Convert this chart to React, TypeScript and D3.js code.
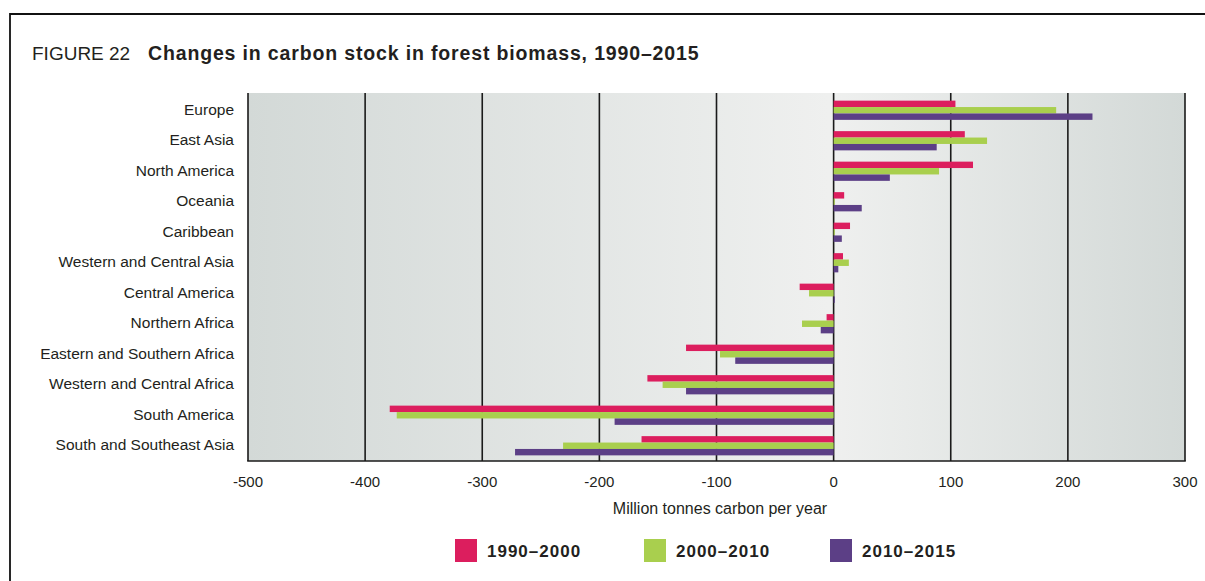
import * as d3 from 'd3';

const regions = [
  'Europe',
  'East Asia',
  'North America',
  'Oceania',
  'Caribbean',
  'Western and Central Asia',
  'Central America',
  'Northern Africa',
  'Eastern and Southern Africa',
  'Western and Central Africa',
  'South America',
  'South and Southeast Asia',
];

const periods = ['1990–2000', '2000–2010', '2010–2015'];

const values1990 = [104, 112, 119, 9, 14, 8, -29, -6, -126, -159, -379, -164];
const values2000 = [190, 131, 90, 1, 1, 13, -21, -27, -97, -146, -373, -231];
const values2010 = [221, 88, 48, 24, 7, 4, 1, -11, -84, -126, -187, -272];

const xTicks = [-500, -400, -300, -200, -100, 0, 100, 200, 300];

const colors = ['#dc1e5e', '#a9cf4e', '#5c3f86'];
const ink = '#231f20';
const font = "'Liberation Sans', Arial, sans-serif";

const W = 1205;
const H = 581;

export default function App() {
  const x = d3.scaleLinear().domain([-500, 300]).range([248, 1185]);
  // plot box
  const top = 93;
  const bottom = 461;
  const y = d3
    .scaleBand<string>()
    .domain(regions)
    .range([95, bottom])
    .paddingInner(0.37)
    .paddingOuter(0.185);
  const sub = d3.scaleBand<string>().domain(periods).range([0, y.bandwidth()]);

  const series = [values1990, values2000, values2010];
  const [x0, x1] = x.range();

  return (
    <svg
      width={W}
      height={H}
      style={{ position: 'absolute', left: 0, top: 0, background: '#fff' }}
    >
      <defs>
        <linearGradient id="bg" x1="0" x2="1" y1="0" y2="0">
          <stop offset="0%" stopColor="#d3d9d7" />
          <stop offset="62%" stopColor="#eff0ef" />
          <stop offset="100%" stopColor="#d3d9d7" />
        </linearGradient>
      </defs>

      {/* frame */}
      <path d={`M10,${H} V14 H${W}`} fill="none" stroke="#111" strokeWidth={1.8} />

      {/* title */}
      <text x={32} y={60} fontFamily={font} fontSize={19} fill={ink}>
        FIGURE 22
      </text>
      <text
        x={148}
        y={60}
        fontFamily={font}
        fontSize={19.5}
        fontWeight="bold"
        letterSpacing={0.85}
        fill={ink}
      >
        Changes in carbon stock in forest biomass, 1990–2015
      </text>

      {/* plot background */}
      <rect x={x0} y={top} width={x1 - x0} height={bottom - top} fill="url(#bg)" />

      {/* grid lines */}
      {xTicks.map((t) => (
        <line
          key={t}
          x1={x(t)}
          x2={x(t)}
          y1={top}
          y2={bottom}
          stroke="#1a1a1a"
          strokeWidth={1.6}
        />
      ))}

      {/* bars */}
      {regions.map((r, i) => (
        <g key={r} transform={`translate(0,${y(r)})`}>
          {series.map((vals, s) => {
            const v = vals[i];
            return (
              <rect
                key={s}
                x={x(Math.min(0, v))}
                y={sub(periods[s])}
                width={Math.abs(x(v) - x(0))}
                height={sub.bandwidth()}
                fill={colors[s]}
              />
            );
          })}
        </g>
      ))}

      {/* bottom axis line */}
      <line x1={x0 - 0.8} x2={x1 + 0.8} y1={bottom} y2={bottom} stroke="#1a1a1a" strokeWidth={1.6} />

      {/* category labels */}
      {regions.map((r) => (
        <text
          key={r}
          x={234}
          y={(y(r) ?? 0) + y.bandwidth() / 2}
          dy="0.3em"
          textAnchor="end"
          fontFamily={font}
          fontSize={15.5}
          fill={ink}
        >
          {r}
        </text>
      ))}

      {/* tick labels */}
      {xTicks.map((t) => (
        <text
          key={t}
          x={x(t)}
          y={487}
          textAnchor="middle"
          fontFamily={font}
          fontSize={15}
          fill={ink}
        >
          {t}
        </text>
      ))}

      <text x={720} y={514} textAnchor="middle" fontFamily={font} fontSize={16} fill={ink}>
        Million tonnes carbon per year
      </text>

      {/* legend */}
      {periods.map((p, i) => {
        const lx = [455, 644, 830][i];
        return (
          <g key={p}>
            <rect x={lx} y={539} width={22} height={23} fill={colors[i]} />
            <text
              x={lx + 32}
              y={557}
              fontFamily={font}
              fontSize={17}
              fontWeight="bold"
              letterSpacing={1}
              fill={ink}
            >
              {p}
            </text>
          </g>
        );
      })}
    </svg>
  );
}
